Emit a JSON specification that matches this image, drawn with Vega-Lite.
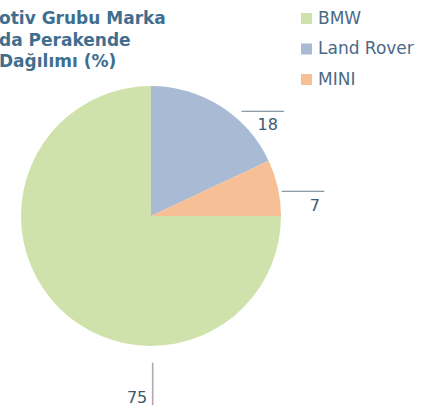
{
  "$schema": "https://vega.github.io/schema/vega-lite/v6.json",
  "width": 302,
  "height": 260,
  "autosize": {"type": "none"},
  "padding": {"left": 0, "top": 86, "right": 141, "bottom": 64},
  "background": "white",
  "title": {
    "text": ["otiv Grubu Marka", "da Perakende", "Dağılımı (%)"],
    "anchor": "start",
    "font": "DejaVu Sans",
    "fontSize": 17,
    "fontWeight": "bold",
    "color": "#3f6e8e",
    "lineHeight": 21.5,
    "offset": 18,
    "dx": -1,
    "dy": 79
  },
  "data": {
    "values": [
      {"brand": "Land Rover", "value": 18, "order": 1},
      {"brand": "MINI", "value": 7, "order": 2},
      {"brand": "BMW", "value": 75, "order": 3}
    ]
  },
  "encoding": {
    "theta": {"field": "value", "type": "quantitative", "stack": true},
    "order": {"field": "order", "type": "quantitative"}
  },
  "layer": [
    {
      "mark": {"type": "arc", "outerRadius": 130},
      "encoding": {
        "color": {
          "field": "brand",
          "type": "nominal",
          "scale": {"domain": ["BMW", "Land Rover", "MINI"], "range": ["#d0e2ab", "#a8bad4", "#f6bf95"]},
          "legend": {
            "orient": "none",
            "legendX": 298,
            "legendY": -76,
            "title": null,
            "symbolType": "square",
            "symbolSize": 121,
            "symbolStrokeWidth": 0,
            "labelFont": "DejaVu Sans",
            "labelFontSize": 17,
            "labelColor": "#4a6a86",
            "rowPadding": 12.5,
            "labelOffset": 3
          }
        }
      }
    },
    {
      "mark": {"type": "text", "radius": 130, "dx": 47, "dy": 19, "font": "DejaVu Sans", "fontSize": 16, "color": "#3c5870", "align": "center", "baseline": "middle"},
      "encoding": {"text": {"condition": {"test": "datum.brand === 'Land Rover'", "field": "value", "type": "quantitative"}, "value": ""}}
    },
    {
      "mark": {"type": "text", "radius": 130, "dx": 37, "dy": 18, "font": "DejaVu Sans", "fontSize": 16, "color": "#3c5870", "align": "center", "baseline": "middle"},
      "encoding": {"text": {"condition": {"test": "datum.brand === 'MINI'", "field": "value", "type": "quantitative"}, "value": ""}}
    },
    {
      "mark": {"type": "text", "radius": 130, "dx": 78, "dy": 90, "font": "DejaVu Sans", "fontSize": 16, "color": "#3c5870", "align": "center", "baseline": "middle"},
      "encoding": {"text": {"condition": {"test": "datum.brand === 'BMW'", "field": "value", "type": "quantitative"}, "value": ""}}
    },
    {
      "mark": {"type": "text", "radius": 130, "dx": 42, "dy": 6, "font": "DejaVu Sans", "fontSize": 14, "color": "#8e9ba6", "align": "center", "baseline": "middle"},
      "encoding": {"text": {"condition": {"test": "datum.brand === 'Land Rover'", "value": "─────"}, "value": ""}}
    },
    {
      "mark": {"type": "text", "radius": 130, "dx": 25, "dy": 4, "font": "DejaVu Sans", "fontSize": 14, "color": "#8e9ba6", "align": "center", "baseline": "middle"},
      "encoding": {"text": {"condition": {"test": "datum.brand === 'MINI'", "value": "─────"}, "value": ""}}
    },
    {
      "mark": {"type": "text", "radius": 130, "dx": 76, "dy": -93, "angle": 90, "font": "DejaVu Sans", "fontSize": 14, "color": "#8e9ba6", "align": "center", "baseline": "middle"},
      "encoding": {"text": {"condition": {"test": "datum.brand === 'BMW'", "value": "─────"}, "value": ""}}
    }
  ],
  "config": {"view": {"stroke": null}}
}
